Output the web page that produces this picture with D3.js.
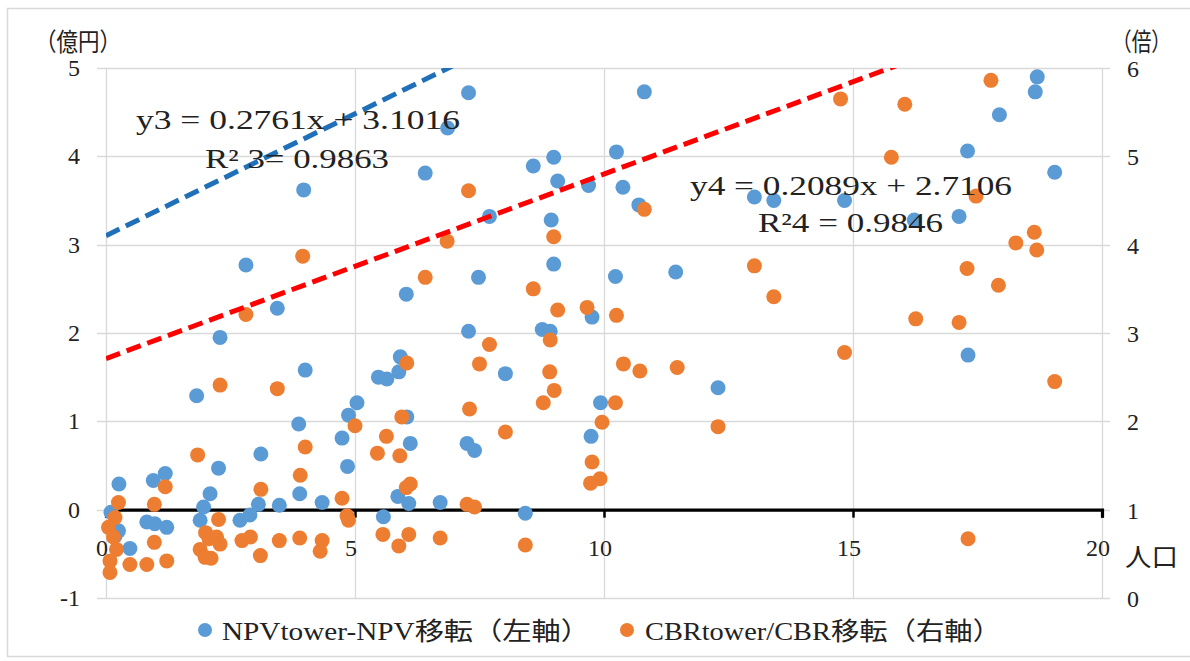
<!DOCTYPE html>
<html>
<head>
<meta charset="utf-8">
<script src="https://cdn.jsdelivr.net/npm/d3@7/dist/d3.min.js"></script>
<style>
  html, body { margin: 0; padding: 0; background: #fff; }
  svg { display: block; }
  text { font-family: "Liberation Serif", "Noto Sans CJK JP", serif; fill: #222; }
</style>
</head>
<body>
<svg id="chart" width="1190" height="661"></svg>
<script>
// Population (x) vs NPV difference (left axis, 億円)
const npvPoints = [
  [0.26, 0.29], [0.95, 0.33], [1.19, 0.41], [2.26, 0.47], [2.09, 0.18], [1.96, 0.03],
  [1.89, -0.12], [0.82, -0.14], [0.98, -0.16], [1.22, -0.20], [0.25, -0.24], [0.18, -0.30],
  [0.48, -0.44], [0.10, -0.03], [2.69, -0.12], [2.89, -0.06], [3.06, 0.06], [3.48, 0.05],
  [3.89, 0.18], [3.11, 0.63], [4.34, 0.08], [1.82, 1.29], [3.87, 0.97], [4.74, 0.81],
  [4.85, 0.49], [4.87, 1.07], [5.04, 1.21], [4.00, 1.58], [5.47, 1.50], [5.64, 1.48],
  [5.91, 1.73], [5.88, 1.56], [6.04, 1.05], [6.11, 0.75], [5.86, 0.15], [6.08, 0.07],
  [5.57, -0.08], [6.71, 0.08], [7.28, 2.02], [8.02, 1.54], [7.25, 0.75], [7.40, 0.67],
  [8.42, -0.04], [8.76, 2.04], [8.92, 2.02], [9.76, 2.18], [9.93, 1.21], [9.74, 0.83],
  [6.03, 2.44], [2.81, 2.77], [3.44, 2.28], [2.29, 1.95], [3.97, 3.62], [6.41, 3.81],
  [6.86, 4.32], [7.28, 4.72], [7.70, 3.32], [7.48, 2.63], [8.58, 3.89], [8.99, 3.99],
  [9.07, 3.72], [8.94, 3.28], [8.99, 2.78], [9.69, 3.67], [10.81, 4.73], [10.25, 4.05],
  [10.38, 3.65], [10.70, 3.45], [10.23, 2.64], [11.44, 2.69], [12.29, 1.38], [13.02, 3.54],
  [13.41, 3.50], [14.83, 3.50], [16.23, 3.28], [17.13, 3.32], [17.30, 4.06], [17.31, 1.75],
  [17.94, 4.47], [18.66, 4.73], [18.70, 4.90], [19.05, 3.82]
];

// Population (x) vs CBR ratio (right axis, 倍)
const cbrPoints = [
  [0.25, 1.08], [0.97, 1.06], [1.19, 1.26], [0.18, 0.91], [0.05, 0.80], [0.15, 0.69],
  [0.21, 0.55], [0.08, 0.42], [0.08, 0.29], [0.97, 0.63], [0.48, 0.38], [0.82, 0.38],
  [1.22, 0.42], [2.26, 0.89], [2.00, 0.74], [2.07, 0.67], [2.22, 0.69], [2.29, 0.61],
  [1.89, 0.55], [1.99, 0.46], [2.11, 0.45], [2.73, 0.65], [2.90, 0.69], [3.10, 0.48],
  [3.48, 0.65], [3.89, 0.68], [1.84, 1.62], [3.11, 1.23], [3.90, 1.39], [4.00, 1.71],
  [2.29, 2.41], [3.44, 2.37], [5.00, 1.95], [4.74, 1.13], [4.84, 0.93], [4.87, 0.88],
  [4.34, 0.65], [4.30, 0.53], [6.04, 2.66], [5.94, 2.05], [5.63, 1.83], [5.45, 1.64],
  [5.90, 1.61], [6.11, 1.29], [6.03, 1.25], [5.56, 0.72], [5.88, 0.59], [6.08, 0.72],
  [6.71, 0.68], [7.25, 1.06], [7.40, 1.03], [7.30, 2.14], [7.70, 2.87], [7.50, 2.65],
  [8.02, 1.88], [8.42, 0.60], [9.07, 3.26], [8.92, 2.92], [8.91, 2.56], [9.00, 2.35],
  [8.78, 2.21], [9.66, 3.29], [10.25, 3.20], [10.39, 2.65], [10.72, 2.57], [10.23, 2.21],
  [9.96, 1.99], [9.76, 1.54], [9.73, 1.30], [9.92, 1.35], [2.81, 3.21], [3.95, 3.87],
  [7.28, 4.61], [6.85, 4.04], [6.41, 3.63], [8.58, 3.50], [8.99, 4.09], [10.81, 4.40],
  [11.47, 2.61], [12.29, 1.94], [13.02, 3.76], [13.41, 3.41], [14.83, 2.78], [14.75, 5.65],
  [16.04, 5.59], [15.77, 4.99], [17.77, 5.86], [17.47, 4.55], [18.64, 4.14], [18.27, 4.02],
  [18.69, 3.94], [17.29, 3.73], [17.92, 3.54], [16.26, 3.16], [17.13, 3.12], [19.05, 2.45],
  [17.31, 0.67]
];

const xTicks = [0, 5, 10, 15, 20];
const leftTicks = [-1, 0, 1, 2, 3, 4, 5];
const rightTicks = [0, 1, 2, 3, 4, 5, 6];

// Linear trend lines
const trendNpv = { slope: 0.2761, intercept: 3.1016 };
const trendCbr = { slope: 0.2089, intercept: 2.7106 };
const trendLabels = [
  ["y3 = 0.2761x + 3.1016", "R² 3= 0.9863"],
  ["y4 = 0.2089x + 2.7106", "R²4 = 0.9846"]
];
const legendLabels = ["NPVtower-NPV移転（左軸）", "CBRtower/CBR移転（右軸）"];

const colors = { npv: "#5B9BD5", cbr: "#ED7D31", trendNpv: "#1F70B8", trendCbr: "#FF0000" };

const svg = d3.select("#chart");
const plot = { left: 106, right: 1102, top: 68, bottom: 598 };

const x = d3.scaleLinear().domain([0, 20]).range([plot.left, plot.right]);
const yL = d3.scaleLinear().domain([-1, 5]).range([plot.bottom, plot.top]);
const yR = d3.scaleLinear().domain([0, 6]).range([plot.bottom, plot.top]);

// outer frame
svg.append("rect").attr("width", 1190).attr("height", 661).attr("fill", "#fff");
svg.append("rect").attr("x", 7.5).attr("y", 8.5).attr("width", 1190).attr("height", 648)
  .attr("fill", "none").attr("stroke", "#d9d9d9").attr("stroke-width", 1.5);

// horizontal gridlines with tick stubs on both sides
const grid = svg.append("g").attr("stroke", "#d9d9d9").attr("stroke-width", 1.3);
grid.selectAll("line.h").data(leftTicks).join("line")
  .attr("x1", plot.left - 9).attr("x2", plot.right + 8)
  .attr("y1", d => Math.round(yL(d)) + 0.5).attr("y2", d => Math.round(yL(d)) + 0.5);
grid.selectAll("line.v").data(xTicks).join("line")
  .attr("x1", d => Math.round(x(d)) + 0.5).attr("x2", d => Math.round(x(d)) + 0.5)
  .attr("y1", plot.top).attr("y2", plot.bottom);

// x axis along left-axis zero
const xAxis = d3.axisBottom(x).tickValues(xTicks).tickSize(8).tickFormat("");
const xg = svg.append("g").attr("transform", `translate(0,${yL(0)})`).call(xAxis);
xg.select(".domain").attr("stroke", "#000").attr("stroke-width", 3.2);
xg.selectAll(".tick line").attr("stroke", "#000").attr("stroke-width", 2.5);

svg.append("g").selectAll("text").data(xTicks).join("text")
  .attr("x", d => x(d) - 4).attr("y", 556)
  .attr("text-anchor", "middle").attr("font-size", 24)
  .text(d => d);

// left axis labels
svg.append("g").selectAll("text").data(leftTicks).join("text")
  .attr("x", 80).attr("y", d => yL(d) + 8)
  .attr("text-anchor", "end").attr("font-size", 24)
  .text(d => d);

// right axis labels
svg.append("g").selectAll("text").data(rightTicks).join("text")
  .attr("x", 1127).attr("y", d => yR(d) + 9)
  .attr("text-anchor", "start").attr("font-size", 24)
  .text(d => d);

// axis titles
svg.append("text").attr("x", 35).attr("y", 51).attr("font-size", 25)
  .attr("textLength", 86).attr("lengthAdjust", "spacingAndGlyphs").text("（億円）");
svg.append("text").attr("x", 1112).attr("y", 51).attr("font-size", 25)
  .attr("textLength", 59).attr("lengthAdjust", "spacingAndGlyphs").text("（倍）");
svg.append("text").attr("x", 1125).attr("y", 566).attr("font-size", 25)
  .attr("textLength", 53).attr("lengthAdjust", "spacingAndGlyphs").text("人口");

// clip region for trend lines
svg.append("clipPath").attr("id", "plotClip").append("rect")
  .attr("x", plot.left).attr("y", plot.top)
  .attr("width", plot.right - plot.left).attr("height", plot.bottom - plot.top);

const marks = svg.append("g");

// blue series first, orange drawn over it
marks.append("g").selectAll("circle").data(npvPoints).join("circle")
  .attr("cx", d => x(d[0])).attr("cy", d => yL(d[1])).attr("r", 7.5)
  .attr("fill", colors.npv);
marks.append("g").selectAll("circle").data(cbrPoints).join("circle")
  .attr("cx", d => x(d[0])).attr("cy", d => yR(d[1])).attr("r", 7.5)
  .attr("fill", colors.cbr);

const trends = svg.append("g").attr("clip-path", "url(#plotClip)");
const lineGen = d3.line();
trends.append("path")
  .attr("d", lineGen([0, 20].map(v => [x(v), yL(trendNpv.slope * v + trendNpv.intercept)])))
  .attr("stroke", colors.trendNpv).attr("stroke-width", 5)
  .attr("stroke-dasharray", "15,7").attr("fill", "none");
trends.append("path")
  .attr("d", lineGen([0, 20].map(v => [x(v), yR(trendCbr.slope * v + trendCbr.intercept)])))
  .attr("stroke", colors.trendCbr).attr("stroke-width", 5)
  .attr("stroke-dasharray", "15,7").attr("fill", "none");

// trend equations
const eq = svg.append("g").attr("font-size", 27);
eq.append("text").attr("x", 136).attr("y", 129).attr("textLength", 324)
  .attr("lengthAdjust", "spacingAndGlyphs").text(trendLabels[0][0]);
eq.append("text").attr("x", 205).attr("y", 168).attr("textLength", 184)
  .attr("lengthAdjust", "spacingAndGlyphs").text(trendLabels[0][1]);
eq.append("text").attr("x", 690).attr("y", 195).attr("textLength", 322)
  .attr("lengthAdjust", "spacingAndGlyphs").text(trendLabels[1][0]);
eq.append("text").attr("x", 758).attr("y", 232).attr("textLength", 185)
  .attr("lengthAdjust", "spacingAndGlyphs").text(trendLabels[1][1]);

// legend
const legend = svg.append("g");
const legendItems = [
  { label: legendLabels[0], color: colors.npv, dot: 205, text: 222, width: 368 },
  { label: legendLabels[1], color: colors.cbr, dot: 627, text: 645, width: 356 }
];
legendItems.forEach(item => {
  legend.append("circle").attr("cx", item.dot).attr("cy", 630).attr("r", 7).attr("fill", item.color);
  legend.append("text").attr("x", item.text).attr("y", 640).attr("font-size", 25)
    .attr("textLength", item.width).attr("lengthAdjust", "spacingAndGlyphs").text(item.label);
});
</script>
</body>
</html>
